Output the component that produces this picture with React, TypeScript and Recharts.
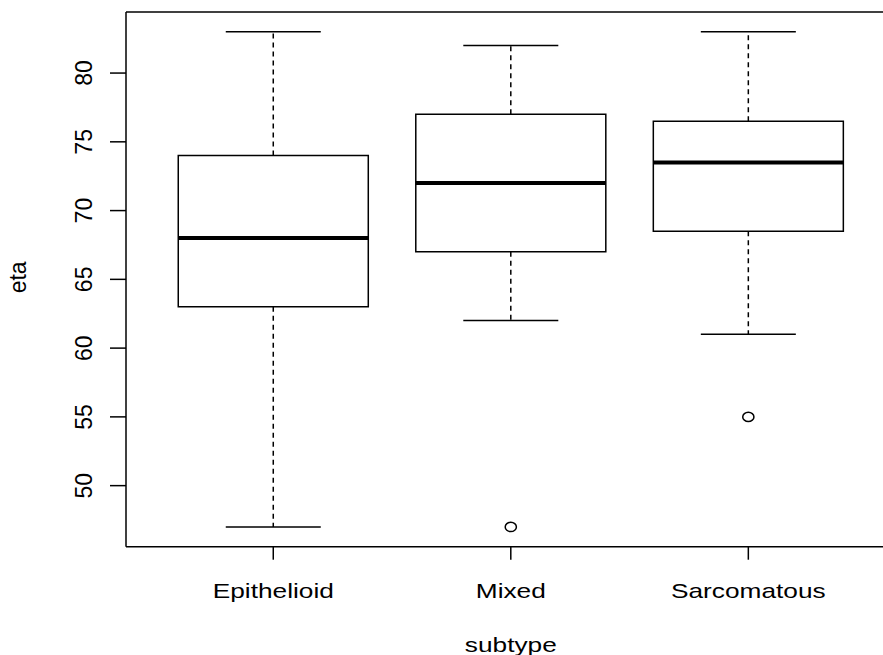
import {
  ComposedChart,
  ReferenceArea,
  ReferenceLine,
  Scatter,
  XAxis,
  YAxis,
} from "recharts";

// box statistics per subtype (boxplot of eta)
const subtypes = ["Epithelioid", "Mixed", "Sarcomatous"];
const lowerWhisker = [47, 62, 61];
const lowerHinge = [63, 67, 68.5];
const medians = [68, 72, 73.5];
const upperHinge = [74, 77, 76.5];
const upperWhisker = [83, 82, 83];
const outlierGroup = [2, 3];
const outlierValue = [47, 55];

const yTicks = [50, 55, 60, 65, 70, 75, 80];
const xDomain: [number, number] = [0.38, 3.62];
const yDomain: [number, number] = [45.56, 84.44];

const BOX_HALF = 0.4;
const CAP_HALF = 0.2;
const FONT = "'Liberation Sans', Arial, Helvetica, sans-serif";
const INK = "#000";

const outliers = outlierGroup.map((g, i) => ({ x: g, y: outlierValue[i] }));

// plot frame: left, top and bottom sides (right side runs past the page edge)
const [x0, x1] = xDomain;
const [y0, y1] = yDomain;
const frameSides = [
  [{ x: x0, y: y0 }, { x: x0, y: y1 }],
  [{ x: x0, y: y1 }, { x: x1, y: y1 }],
  [{ x: x0, y: y0 }, { x: x1, y: y0 }],
];

function XTick({ x, y, payload }: any) {
  return (
    <g transform={`translate(${x},${y + 38.6}) scale(1.25,1)`}>
      <text x={0} y={0} textAnchor="middle" fontSize={21} fontFamily={FONT} fill={INK}>
        {subtypes[payload.value - 1]}
      </text>
    </g>
  );
}

function YTick({ x, y, payload }: any) {
  const bx = x - 18.3;
  return (
    <text
      x={bx}
      y={y}
      transform={`rotate(-90, ${bx}, ${y})`}
      textAnchor="middle"
      fontSize={23}
      fontFamily={FONT}
      fill={INK}
    >
      {payload.value}
    </text>
  );
}

function OutlierDot({ cx, cy }: any) {
  return <ellipse cx={cx} cy={cy} rx={5.6} ry={4.7} fill="none" stroke={INK} strokeWidth={1.5} />;
}

export default function App() {
  return (
    <div style={{ position: "absolute", left: 0, top: 0, width: 883, height: 655, background: "#fff" }}>
      <ComposedChart width={883} height={655} margin={{ top: 12, right: -12.6, left: 66, bottom: 48.3 }}>
        <XAxis
          type="number"
          dataKey="x"
          domain={xDomain}
          ticks={[1, 2, 3]}
          allowDataOverflow
          axisLine={false}
          tickSize={13}
          tickMargin={0}
          tickLine={{ stroke: INK, strokeWidth: 1.5 }}
          tick={<XTick />}
          height={60}
          label={{
            content: ({ viewBox }: any) => (
              <g transform={`translate(${viewBox.x + viewBox.width / 2},${viewBox.y + 105}) scale(1.25,1)`}>
                <text x={0} y={0} textAnchor="middle" fontSize={21} fontFamily={FONT} fill={INK}>
                  subtype
                </text>
              </g>
            ),
          }}
        />
        <YAxis
          type="number"
          dataKey="y"
          domain={yDomain}
          ticks={yTicks}
          allowDataOverflow
          axisLine={false}
          tickSize={16}
          tickMargin={0}
          tickLine={{ stroke: INK, strokeWidth: 1.5 }}
          tick={<YTick />}
          width={60}
          label={{
            content: ({ viewBox }: any) => {
              const cy = viewBox.y + viewBox.height / 2 - 2;
              return (
                <text
                  x={26}
                  y={cy}
                  transform={`rotate(-90, 26, ${cy})`}
                  textAnchor="middle"
                  fontSize={23}
                  fontFamily={FONT}
                  fill={INK}
                >
                  eta
                </text>
              );
            },
          }}
        />

        {frameSides.map((seg, i) => (
          <ReferenceLine
            key={`frame-${i}`}
            segment={seg}
            stroke={INK}
            strokeWidth={1.5}
            ifOverflow="visible"
          />
        ))}

        {/* whiskers */}
        {subtypes.map((s, i) => (
          <ReferenceLine
            key={`wu-${s}`}
            segment={[
              { x: i + 1, y: upperHinge[i] },
              { x: i + 1, y: upperWhisker[i] },
            ]}
            stroke={INK}
            strokeWidth={1.5}
            strokeDasharray="5 4"
          />
        ))}
        {subtypes.map((s, i) => (
          <ReferenceLine
            key={`wl-${s}`}
            segment={[
              { x: i + 1, y: lowerHinge[i] },
              { x: i + 1, y: lowerWhisker[i] },
            ]}
            stroke={INK}
            strokeWidth={1.5}
            strokeDasharray="5 4"
          />
        ))}

        {/* whisker caps */}
        {subtypes.map((s, i) => (
          <ReferenceLine
            key={`cu-${s}`}
            segment={[
              { x: i + 1 - CAP_HALF, y: upperWhisker[i] },
              { x: i + 1 + CAP_HALF, y: upperWhisker[i] },
            ]}
            stroke={INK}
            strokeWidth={1.5}
          />
        ))}
        {subtypes.map((s, i) => (
          <ReferenceLine
            key={`cl-${s}`}
            segment={[
              { x: i + 1 - CAP_HALF, y: lowerWhisker[i] },
              { x: i + 1 + CAP_HALF, y: lowerWhisker[i] },
            ]}
            stroke={INK}
            strokeWidth={1.5}
          />
        ))}

        {/* boxes */}
        {subtypes.map((s, i) => (
          <ReferenceArea
            key={`box-${s}`}
            x1={i + 1 - BOX_HALF}
            x2={i + 1 + BOX_HALF}
            y1={lowerHinge[i]}
            y2={upperHinge[i]}
            fill="none"
            fillOpacity={0}
            stroke={INK}
            strokeWidth={1.5}
          />
        ))}

        {/* medians */}
        {subtypes.map((s, i) => (
          <ReferenceLine
            key={`med-${s}`}
            segment={[
              { x: i + 1 - BOX_HALF, y: medians[i] },
              { x: i + 1 + BOX_HALF, y: medians[i] },
            ]}
            stroke={INK}
            strokeWidth={4}
          />
        ))}

        <Scatter data={outliers} dataKey="y" shape={<OutlierDot />} isAnimationActive={false} />
      </ComposedChart>
    </div>
  );
}
